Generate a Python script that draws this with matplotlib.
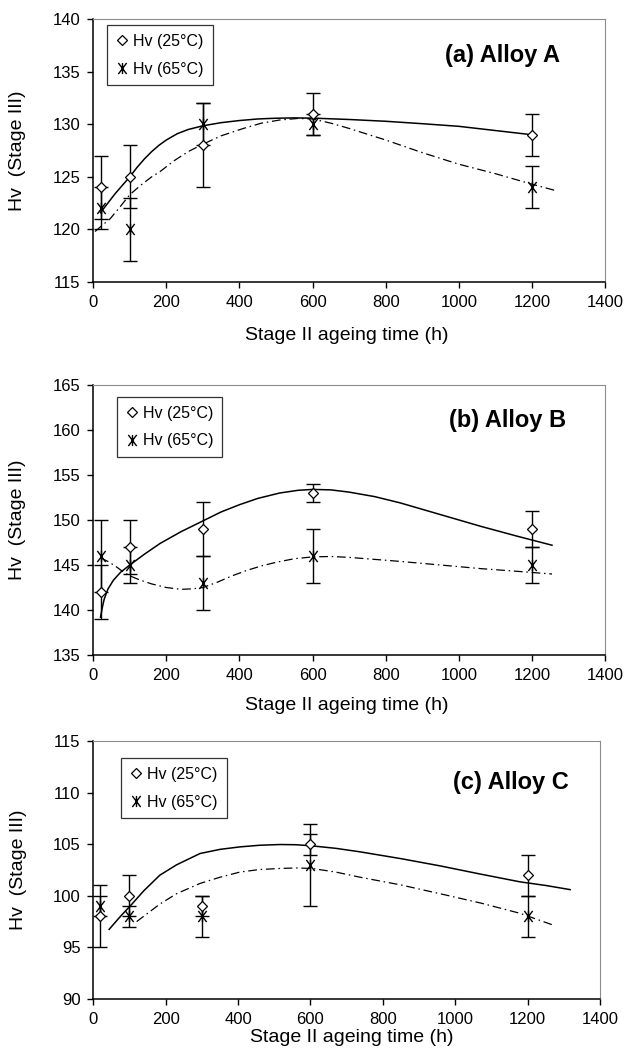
import numpy as np
from matplotlib import pyplot as plt
from matplotlib.path import Path
from matplotlib.lines import Line2D

# Stage II ageing times (h)
hours = [20, 100, 300, 600, 1200]

# Alloy A
a_hv25 = [124, 125, 128, 131, 129]
a_err25 = [3, 3, 4, 2, 2]
a_hv65 = [122, 120, 130, 130, 124]
a_err65 = [2, 3, 2, 1, 2]

# Alloy B
b_hv25 = [142, 147, 149, 153, 149]
b_err25 = [3, 3, 3, 1, 2]
b_hv65 = [146, 145, 143, 146, 145]
b_err65 = [4, 2, 3, 3, 2]

# Alloy C
c_hv25 = [98, 100, 99, 105, 102]
c_err25 = [3, 2, 1, 1, 2]
c_hv65 = [99, 98, 98, 103, 98]
c_err65 = [1, 1, 2, 4, 2]

# trend lines, points
a_fit25_t = [20, 40, 60, 80, 100, 120, 140, 160, 180, 200, 230, 260, 300, 350, 400, 450, 500, 550,
             600, 700, 800, 900, 1000, 1100, 1200]
a_fit25_v = [121.6, 122.5, 123.4, 124.2, 125.0, 125.9, 126.7, 127.4, 128.0, 128.5, 129.1, 129.5, 129.85,
             130.15, 130.35, 130.5, 130.57, 130.6, 130.58, 130.45, 130.28, 130.05, 129.8, 129.4, 129.0]
a_fit65_t = [5, 25, 46, 70, 100, 130, 160, 183, 220, 260, 300, 350, 411, 460, 510, 560, 600, 650, 700,
             800, 900, 1000, 1100, 1200, 1264]
a_fit65_v = [119.8, 120.4, 121.0, 122.0, 123.3, 124.2, 125.0, 125.5, 126.5, 127.4, 128.1, 128.9, 129.6,
             130.1, 130.4, 130.55, 130.5, 130.1, 129.6, 128.5, 127.3, 126.2, 125.3, 124.3, 123.7]

b_fit25_t = [20, 25, 30, 40, 55, 75, 100, 140, 183, 240, 300, 350, 400, 450, 510, 560, 600, 650, 700,
             770, 840, 950, 1060, 1160, 1255]
b_fit25_v = [139.2, 140.3, 141.2, 142.3, 143.3, 144.2, 145.0, 146.2, 147.4, 148.7, 149.9, 150.9, 151.7,
             152.4, 153.0, 153.3, 153.4, 153.35, 153.1, 152.6, 151.9, 150.6, 149.3, 148.2, 147.2]
b_fit65_t = [20, 40, 60, 80, 100, 130, 160, 200, 240, 270, 300, 340, 380, 420, 460, 500, 550, 600, 650,
             700, 840, 950, 1060, 1160, 1255]
b_fit65_v = [145.8, 145.4, 144.9, 144.3, 143.8, 143.3, 142.9, 142.5, 142.3, 142.35, 142.5, 143.1, 143.8,
             144.4, 144.9, 145.3, 145.7, 145.9, 145.95, 145.85, 145.4, 145.0, 144.6, 144.3, 144.0]

c_fit25_t = [44, 75, 107, 140, 184, 230, 295, 350, 405, 460, 516, 560, 604, 670, 737, 850, 958, 1070,
             1179, 1250, 1317]
c_fit25_v = [96.75, 98.0, 99.2, 100.5, 102.0, 103.0, 104.1, 104.5, 104.74, 104.9, 104.97, 104.95, 104.84,
             104.6, 104.26, 103.6, 102.9, 102.1, 101.35, 101.0, 100.6]
c_fit65_t = [120, 150, 184, 230, 295, 350, 405, 460, 516, 560, 604, 670, 737, 850, 958, 1070, 1179, 1267]
c_fit65_v = [97.5, 98.3, 99.2, 100.2, 101.2, 101.8, 102.3, 102.55, 102.65, 102.7, 102.65, 102.3, 101.8,
             101.05, 100.2, 99.3, 98.3, 97.2]

plt.rcParams['font.family'] = ['Liberation Sans', 'DejaVu Sans']

# star marker (x with a vertical stroke), like the Excel one
star = Path([(-0.75, -1), (0.75, 1), (-0.75, 1), (0.75, -1), (0, -1), (0, 1)],
            [Path.MOVETO, Path.LINETO, Path.MOVETO, Path.LINETO, Path.MOVETO, Path.LINETO])

dashdot = (0, (7, 3, 1.2, 3))


def panel(ax, hv25, err25, hv65, err65, fit25, fit65, ylim, title, leg_xy, title_xy):
    ax.plot(fit25[0], fit25[1], color='black', lw=1.1, zorder=2)
    ax.plot(fit65[0], fit65[1], color='black', lw=0.9, ls=dashdot, zorder=2)
    ax.errorbar(hours, hv25, yerr=err25, fmt='none', ecolor='black', elinewidth=1, capsize=5, capthick=1)
    ax.errorbar(hours, hv65, yerr=err65, fmt='none', ecolor='black', elinewidth=1, capsize=5, capthick=1)
    ax.plot(hours, hv25, ls='none', marker='D', ms=5.5, mfc='white', mec='black', mew=0.9, zorder=4)
    ax.plot(hours, hv65, ls='none', marker=star, ms=8, mfc='none', mec='black', mew=1.0, zorder=4)

    ax.set_xlim(0, 1400)
    ax.set_ylim(*ylim)
    ax.set_xticks(np.arange(0, 1401, 200))
    ax.set_yticks(np.arange(ylim[0], ylim[1] + 1, 5))
    ax.tick_params(direction='out', length=4, width=1, labelsize=12, pad=5)
    for s in ['top', 'right']:
        ax.spines[s].set_color('#8c8c8c')
    for s in ['left', 'bottom']:
        ax.spines[s].set_linewidth(1.1)

    ax.set_xlabel('Stage II ageing time (h)', fontsize=14)
    ax.set_ylabel('Hv  (Stage III)', fontsize=14)

    ax.text(title_xy[0], title_xy[1], title, transform=ax.transAxes, ha='center', va='center',
            fontsize=17, fontweight='bold')

    handles = [Line2D([], [], ls='none', marker='D', ms=5, mfc='white', mec='black', mew=0.9),
               Line2D([], [], ls='none', marker=star, ms=8, mec='black', mew=1.0)]
    leg = ax.legend(handles, ['Hv (25°C)', 'Hv (65°C)'], loc='upper left', bbox_to_anchor=leg_xy,
                    fontsize=11.5, frameon=True, fancybox=False, edgecolor='black', handlelength=0.8,
                    handletextpad=0.3, labelspacing=0.8, borderpad=0.55, borderaxespad=0)
    leg.get_frame().set_linewidth(0.9)


fig = plt.figure(figsize=(6.26, 10.63), dpi=100)
ax1 = fig.add_axes([0.1489, 0.7347, 0.8176, 0.2474])
ax2 = fig.add_axes([0.1489, 0.3838, 0.8176, 0.2540])
ax3 = fig.add_axes([0.1489, 0.0602, 0.8099, 0.2427])

panel(ax1, a_hv25, a_err25, a_hv65, a_err65, (a_fit25_t, a_fit25_v), (a_fit65_t, a_fit65_v),
      (115, 140), '(a) Alloy A', (0.027, 0.977), (0.80, 0.863))
panel(ax2, b_hv25, b_err25, b_hv65, b_err65, (b_fit25_t, b_fit25_v), (b_fit65_t, b_fit65_v),
      (135, 165), '(b) Alloy B', (0.046, 0.956), (0.81, 0.867))
panel(ax3, c_hv25, c_err25, c_hv65, c_err65, (c_fit25_t, c_fit25_v), (c_fit65_t, c_fit65_v),
      (90, 115), '(c) Alloy C', (0.055, 0.934), (0.824, 0.841))

ax1.xaxis.set_label_coords(0.495, -0.171)
ax2.xaxis.set_label_coords(0.495, -0.156)
ax3.xaxis.set_label_coords(0.51, -0.116)
for ax in [ax1, ax2, ax3]:
    ax.yaxis.set_label_coords(-0.131, 0.5)

fig.savefig('out.png', dpi=100)
